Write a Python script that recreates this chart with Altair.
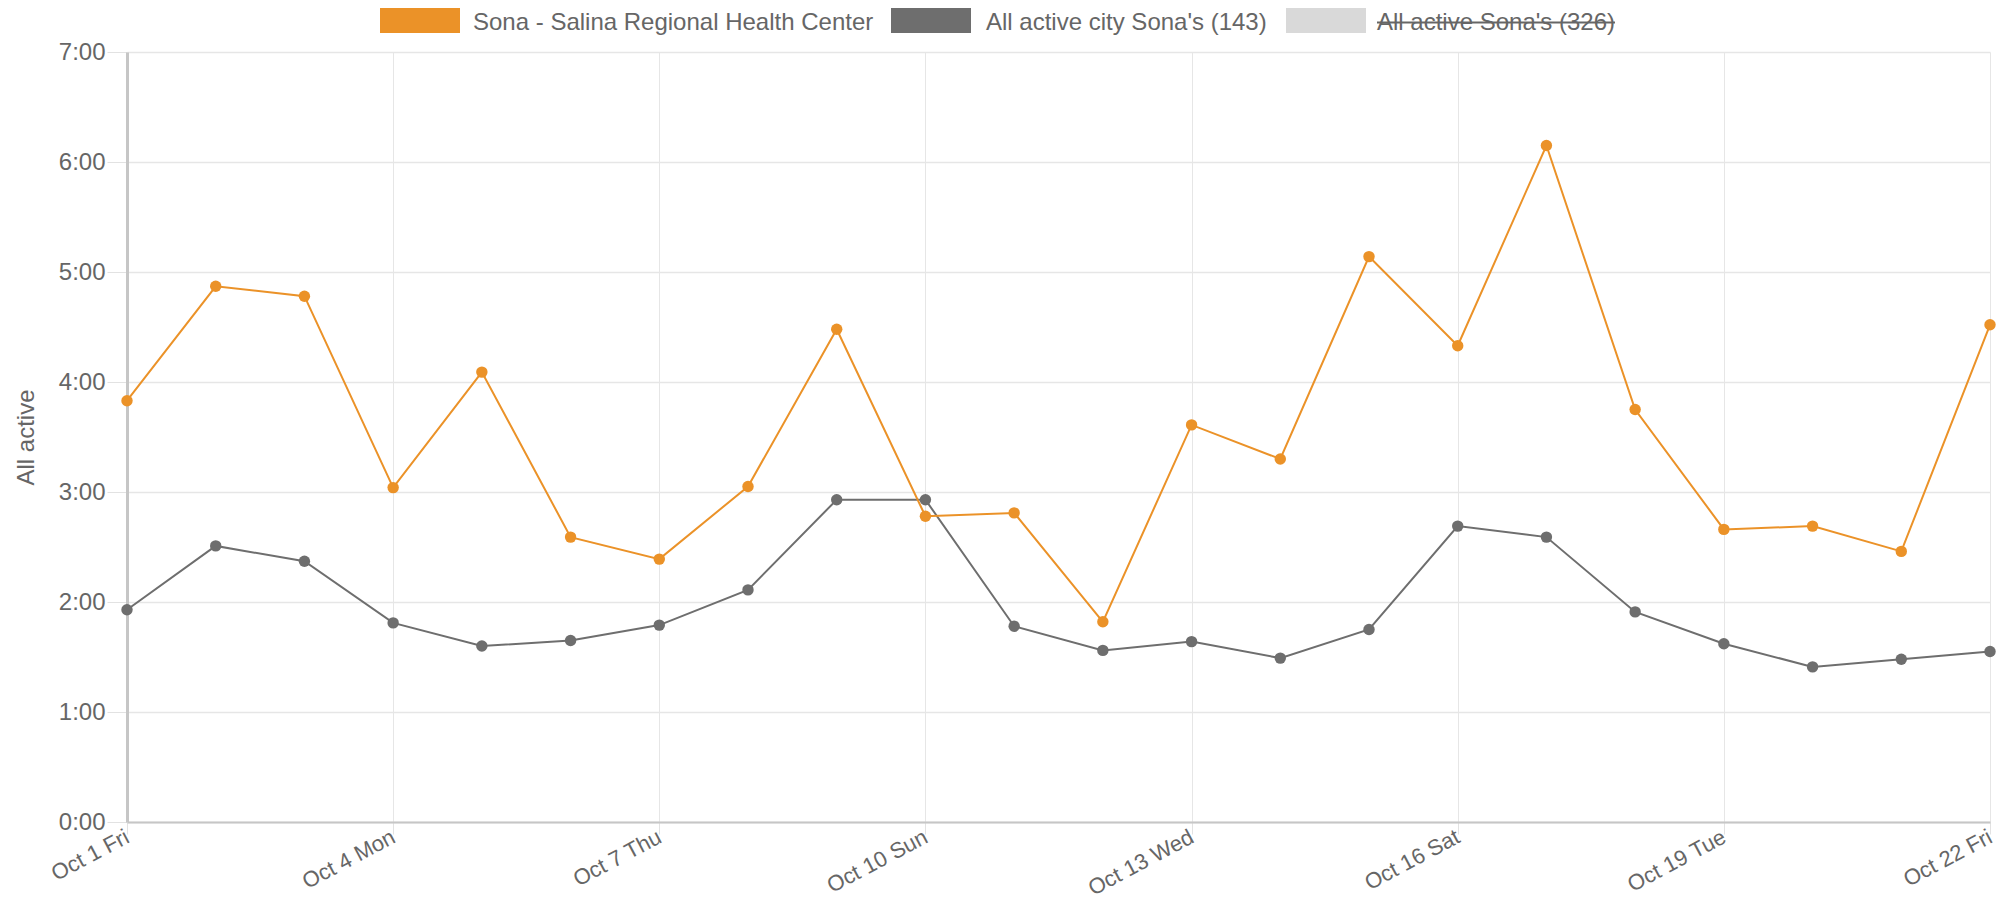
import altair as alt
import pandas as pd

# ---- data ----
days = ["Oct 1 Fri", "Oct 2 Sat", "Oct 3 Sun", "Oct 4 Mon", "Oct 5 Tue", "Oct 6 Wed",
        "Oct 7 Thu", "Oct 8 Fri", "Oct 9 Sat", "Oct 10 Sun", "Oct 11 Mon", "Oct 12 Tue",
        "Oct 13 Wed", "Oct 14 Thu", "Oct 15 Fri", "Oct 16 Sat", "Oct 17 Sun", "Oct 18 Mon",
        "Oct 19 Tue", "Oct 20 Wed", "Oct 21 Thu", "Oct 22 Fri"]
tick_labels = ["Oct 1 Fri", "Oct 4 Mon", "Oct 7 Thu", "Oct 10 Sun", "Oct 13 Wed",
               "Oct 16 Sat", "Oct 19 Tue", "Oct 22 Fri"]
# hours (shown as h:mm on the axis)
salina = [3.83, 4.87, 4.78, 3.04, 4.09, 2.59, 2.39, 3.05, 4.48, 2.78, 2.81, 1.82,
          3.61, 3.30, 5.14, 4.33, 6.15, 3.75, 2.66, 2.69, 2.46, 4.52]
city = [1.93, 2.51, 2.37, 1.81, 1.60, 1.65, 1.79, 2.11, 2.93, 2.93, 1.78, 1.56,
        1.64, 1.49, 1.75, 2.69, 2.59, 1.91, 1.62, 1.41, 1.48, 1.55]
y_ticks = [0, 1, 2, 3, 4, 5, 6, 7]
series_names = ["Sona - Salina Regional Health Center",
                "All active city Sona's (143)",
                "All active Sona's (326)"]
series_colors = ["#EB9228", "#6E6E6E", "#D9D9D9"]

FONT = "Liberation Sans"
TXT = "#666666"
FS = 24

df = pd.concat([
    pd.DataFrame({"day": days, "value": salina, "series": series_names[0]}),
    pd.DataFrame({"day": days, "value": city, "series": series_names[1]}),
], ignore_index=True)

color_scale = alt.Scale(domain=series_names, range=series_colors)

x_enc = alt.X("day:O", sort=days,
              scale=alt.Scale(type="point", padding=0),
              axis=alt.Axis(values=tick_labels, title=None, labelAngle=-28,
                            labelAlign="right", labelBaseline="middle",
                            labelFontSize=22, labelColor=TXT, labelFont=FONT,
                            labelPadding=1, tickSize=12, tickColor="#e2e2e2",
                            grid=True, gridColor="#e6e6e6", gridWidth=1,
                            domainColor="#c6c6c6", domainWidth=2))
y_enc = alt.Y("value:Q", scale=alt.Scale(domain=[0, 7], nice=False),
              axis=alt.Axis(values=y_ticks, labelExpr="datum.value + ':00'",
                            title="All active", titleFontSize=FS, titleColor=TXT,
                            titleFont=FONT, titleFontWeight="normal", titlePadding=20,
                            labelFontSize=FS, labelColor=TXT, labelFont=FONT,
                            labelPadding=2, tickSize=20, tickColor="#e2e2e2",
                            grid=True, gridColor="#e6e6e6", gridWidth=1.5,
                            domainColor="#c6c6c6", domainWidth=3))

base = alt.Chart(df)
layers = []
for name in [series_names[1], series_names[0]]:
    sub = base.transform_filter(alt.datum.series == name)
    layers.append(sub.mark_line(strokeWidth=2).encode(
        x=x_enc, y=y_enc,
        color=alt.Color("series:N", scale=color_scale, legend=None)))
    layers.append(sub.mark_circle(size=130, opacity=1).encode(
        x=x_enc, y=y_enc,
        color=alt.Color("series:N", scale=color_scale, legend=None)))

# ---- legend drawn as marks (third series is hidden, shown struck through) ----
box_x = [253, 764, 1159]
text_x = [346, 859, 1250]
legend_layers = []
for i, name in enumerate(series_names):
    ldf = pd.DataFrame({"series": [name]})
    legend_layers.append(alt.Chart(ldf).mark_rect(color=series_colors[i]).encode(
        x=alt.value(box_x[i]), x2=alt.value(box_x[i] + 80),
        y=alt.value(-45), y2=alt.value(-19)))
    legend_layers.append(alt.Chart(ldf).mark_text(
        align="left", baseline="alphabetic", font=FONT, fontSize=FS, color=TXT).encode(
        x=alt.value(text_x[i]), y=alt.value(-22), text="series:N"))

strike = alt.Chart(pd.DataFrame({"series": [series_names[2]]})).mark_rule(
    color=TXT, strokeWidth=2).encode(
    x=alt.value(1250), x2=alt.value(1488), y=alt.value(-29.5))

chart = alt.layer(*layers, *legend_layers, strike).properties(
    width=1863, height=770,
    autosize=alt.AutoSizeParams(type="none"),
    padding={"left": 119, "top": 44, "right": 7, "bottom": 80},
).configure_view(stroke=None)

chart.save("out.html", embed_options={"renderer": "svg", "actions": False})
